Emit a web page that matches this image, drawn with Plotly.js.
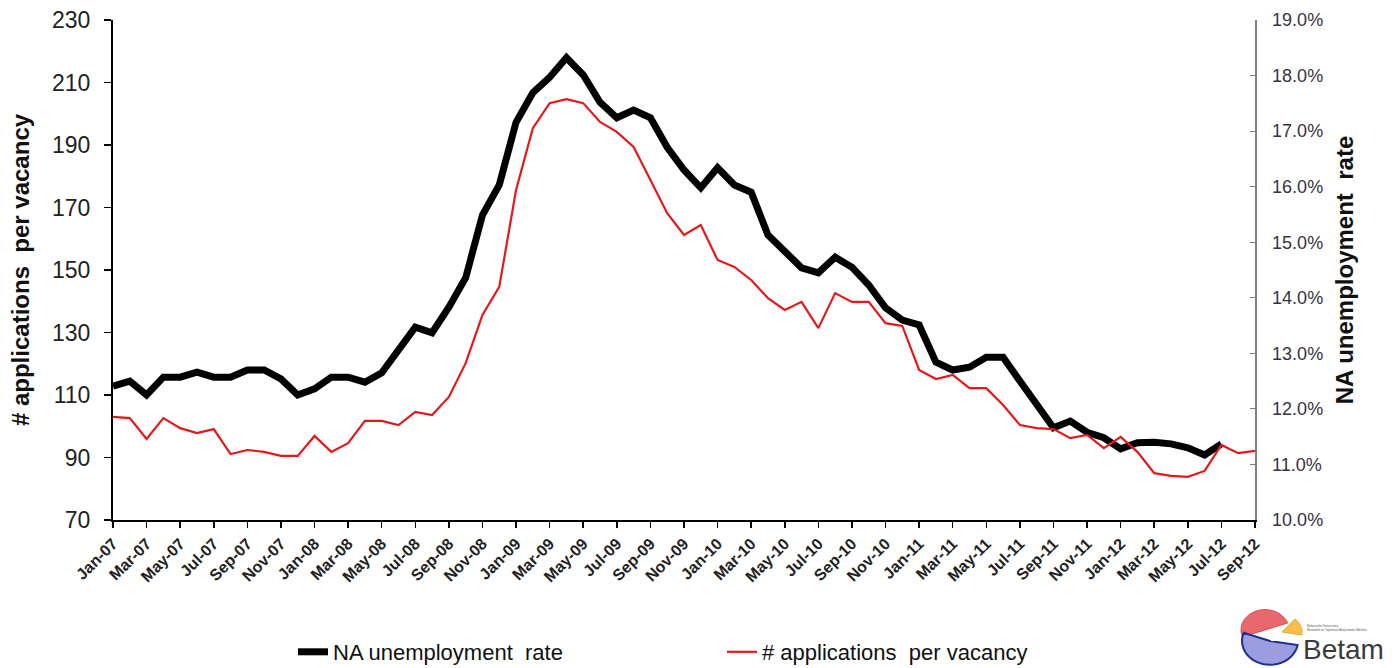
<!DOCTYPE html>
<html>
<head>
<meta charset="utf-8">
<script src="https://cdn.plot.ly/plotly-3.0.1.min.js"></script>
<style>html,body{margin:0;padding:0;background:#fff;}#chart{width:1400px;height:668px;}</style>
</head>
<body>
<div id="chart"></div>
<script>
const months = [
  "Jan-07","Feb-07","Mar-07","Apr-07","May-07","Jun-07","Jul-07","Aug-07","Sep-07","Oct-07","Nov-07","Dec-07",
  "Jan-08","Feb-08","Mar-08","Apr-08","May-08","Jun-08","Jul-08","Aug-08","Sep-08","Oct-08","Nov-08","Dec-08",
  "Jan-09","Feb-09","Mar-09","Apr-09","May-09","Jun-09","Jul-09","Aug-09","Sep-09","Oct-09","Nov-09","Dec-09",
  "Jan-10","Feb-10","Mar-10","Apr-10","May-10","Jun-10","Jul-10","Aug-10","Sep-10","Oct-10","Nov-10","Dec-10",
  "Jan-11","Feb-11","Mar-11","Apr-11","May-11","Jun-11","Jul-11","Aug-11","Sep-11","Oct-11","Nov-11","Dec-11",
  "Jan-12","Feb-12","Mar-12","Apr-12","May-12","Jun-12","Jul-12","Aug-12","Sep-12"
];

// NA unemployment rate (%), right axis: Jan-07 .. Jul-12
const unemploymentRate = [
  12.41,12.50,12.25,12.57,12.57,12.66,12.57,12.57,12.70,12.70,12.54,12.25,
  12.36,12.57,12.57,12.48,12.65,13.06,13.47,13.37,13.83,14.36,15.49,16.03,
  17.16,17.69,17.97,18.32,18.01,17.52,17.24,17.38,17.24,16.71,16.30,15.98,
  16.34,16.03,15.90,15.13,14.82,14.54,14.45,14.73,14.55,14.23,13.82,13.60,
  13.51,12.84,12.70,12.75,12.93,12.93,12.50,12.07,11.66,11.78,11.58,11.48,
  11.28,11.39,11.40,11.37,11.30,11.17,11.37
];

// # applications per vacancy, left axis: Jan-07 .. Sep-12
const applicationsPerVacancy = [
  103.0,102.6,95.9,102.6,99.4,97.8,99.1,91.1,92.4,91.8,90.5,90.5,
  96.9,91.8,94.6,101.7,101.7,100.4,104.6,103.6,109.4,120.2,135.6,144.6,
  175.6,195.4,203.4,204.7,203.4,197.4,194.2,189.4,178.8,168.2,161.2,164.4,
  153.2,151.0,146.8,141.0,137.2,139.8,131.4,142.6,139.8,139.8,133.0,132.1,
  118.0,115.1,116.4,112.2,112.2,106.8,100.4,99.4,99.1,96.2,97.2,93.0,
  96.6,91.8,85.0,84.1,83.8,85.7,94.0,91.4,92.1
];

const seriesNames = ["NA unemployment  rate", "# applications  per vacancy"];
const leftTitle = "# applications  per vacancy";
const rightTitle = "NA unemployment  rate";

const L = 113, R = 1255, T = 20, B = 520;
const W = 1400, H = 668;
const px = x => (x - L) / (R - L);
const py = y => (B - y) / (B - T);

const traces = [
  {
    x: months.slice(0, unemploymentRate.length),
    y: unemploymentRate,
    name: seriesNames[0],
    type: "scatter", mode: "lines",
    line: {color: "#000000", width: 7},
    yaxis: "y",
    hoverinfo: "x+y"
  },
  {
    x: months,
    y: applicationsPerVacancy,
    name: seriesNames[1],
    type: "scatter", mode: "lines",
    line: {color: "#e3191c", width: 2.2},
    yaxis: "y2",
    hoverinfo: "x+y"
  }
];

function logoPath(cx, cy, r, a0, a1) {
  let d = `M ${px(cx)} ${py(cy)} `;
  const n = 24;
  for (let k = 0; k <= n; k++) {
    const a = (a0 + (a1 - a0) * k / n) * Math.PI / 180;
    const x = cx + r * Math.cos(a);
    const y = cy - r * Math.sin(a) * 0.85;
    d += `L ${px(x)} ${py(y)} `;
  }
  return d + "Z";
}

const layout = {
  width: W, height: H,
  margin: {l: L, r: W - R, t: T, b: H - B, pad: 0},
  paper_bgcolor: "#ffffff",
  plot_bgcolor: "#ffffff",
  showlegend: true,
  font: {family: "Liberation Sans, Arial, sans-serif", color: "#222"},
  xaxis: {
    type: "category",
    categoryorder: "array",
    categoryarray: months,
    range: [0, months.length - 1],
    tickmode: "linear", tick0: 0, dtick: 2,
    tickangle: -45,
    ticks: "outside", ticklen: 6, tickwidth: 1.5, tickcolor: "#000",
    showline: true, linecolor: "#000", linewidth: 2,
    showgrid: false, zeroline: false,
    tickfont: {family: "Liberation Sans, Arial, sans-serif", size: 16, color: "#222", weight: "bold"},
    automargin: false,
    fixedrange: true
  },
  yaxis: {
    range: [10, 19], dtick: 1, tick0: 10,
    side: "right",
    tickformat: ".1f", ticksuffix: "%",
    ticks: "inside", ticklen: 5, tickwidth: 1, tickcolor: "#808080",
    showline: true, linecolor: "#808080", linewidth: 1.5,
    showgrid: false, zeroline: false,
    tickfont: {family: "Liberation Sans, Arial, sans-serif", size: 18, color: "#3a3040"},
    ticklabelstandoff: 12,
    title: {text: rightTitle, font: {family: "Liberation Sans, Arial, sans-serif", size: 24, color: "#111", weight: "bold"}, standoff: 14},
    automargin: false,
    fixedrange: true
  },
  yaxis2: {
    range: [70, 230], dtick: 20, tick0: 70,
    side: "left", overlaying: "y",
    ticks: "outside", ticklen: 7, tickwidth: 1.5, tickcolor: "#000",
    showline: true, linecolor: "#000", linewidth: 2,
    showgrid: false, zeroline: false,
    tickfont: {family: "Liberation Sans Narrow, Liberation Sans, Arial, sans-serif", size: 23, color: "#222"},
    ticklabelstandoff: 9,
    title: {text: leftTitle, font: {family: "Liberation Sans, Arial, sans-serif", size: 24, color: "#111", weight: "bold"}, standoff: 16},
    automargin: false,
    fixedrange: true
  },
  yaxis3: {
    range: [70, 230], dtick: 20, tick0: 70,
    side: "left", overlaying: "y", anchor: "x",
    ticks: "inside", ticklen: 6, tickwidth: 1.5, tickcolor: "#000",
    showticklabels: false, showline: false,
    showgrid: false, zeroline: false,
    automargin: false,
    fixedrange: true
  },
  legend: {
    orientation: "h",
    xref: "paper", x: px(293), xanchor: "left",
    yref: "container", y: (H - 652) / H, yanchor: "middle",
    entrywidth: 384, entrywidthmode: "pixels",
    font: {family: "Liberation Sans Narrow, Liberation Sans, Arial, sans-serif", size: 22, color: "#111"},
    bgcolor: "rgba(0,0,0,0)",
    traceorder: "normal"
  },
  shapes: [
    {type: "path", xref: "paper", yref: "paper", path: logoPath(1265, 630, 24, 20, 200), fillcolor: "#e8696b", line: {color: "#d84c50", width: 1}},
    {type: "path", xref: "paper", yref: "paper", path: logoPath(1282, 632, 20, -10, 50), fillcolor: "#f4c04a", line: {color: "#e6a92a", width: 1}},
    {type: "path", xref: "paper", yref: "paper", path: logoPath(1270, 641, 28, 160, 350), fillcolor: "#9b9de0", line: {color: "#1f2f8f", width: 2}}
  ],
  annotations: [
    {text: "Betam", xref: "paper", yref: "paper", x: px(1386), y: py(649), xanchor: "right", yanchor: "middle",
     showarrow: false, font: {family: "Liberation Sans, Arial, sans-serif", size: 28, color: "#3b3b3b"}},
    {text: "Bahçeşehir Üniversitesi<br>Ekonomik ve Toplumsal Araştırmalar Merkezi", xref: "paper", yref: "paper", x: px(1305), y: py(628), xanchor: "left", yanchor: "middle",
     showarrow: false, align: "left", font: {family: "Liberation Sans, Arial, sans-serif", size: 3, color: "#555"}}
  ]
};

Plotly.newPlot("chart", traces, layout, {staticPlot: true, displayModeBar: false});
</script>
</body>
</html>
